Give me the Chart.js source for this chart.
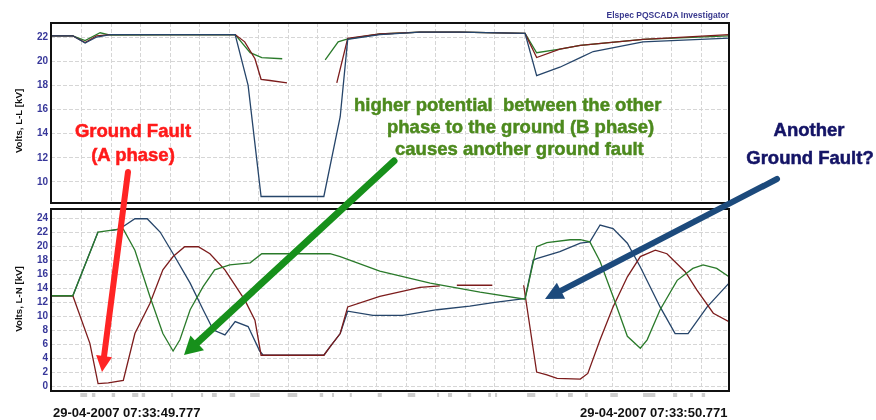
<!DOCTYPE html>
<html>
<head>
<meta charset="utf-8">
<script src="https://cdn.jsdelivr.net/npm/chart.js@4.4.1/dist/chart.umd.min.js"></script>
<style>
  body { margin: 0; background: #fff; }
  #wrap { position: relative; width: 876px; height: 420px; overflow: hidden; font-family: "Liberation Sans", Arial, sans-serif; }
  #wrap canvas { position: absolute; left: 0; }
  .txt { position: absolute; font-weight: bold; white-space: pre; line-height: 1; }
  .note { font-size: 18.5px; -webkit-text-stroke: 0.5px currentColor; }
  .red { color: #ff1a1a; }
  .green { color: #4d8a1e; }
  .navy { color: #141466; }
  .axisTitle { position: absolute; font-weight: bold; font-size: 9.7px; white-space: pre; line-height: 1; color: #111; transform: translate(-50%, -50%) rotate(-90deg); }
  #arrows { position: absolute; left: 0; top: 0; }
</style>
</head>
<body>
<div id="wrap">
  <canvas id="llChart" width="876" height="213" style="top:0"></canvas>
  <canvas id="lnChart" width="876" height="221" style="top:199px"></canvas>

  <div class="txt" style="right:147px; top:11px; font-size:8.5px; color:#3a3a8f;">Elspec PQSCADA Investigator</div>
  <div class="axisTitle" style="left:19px; top:121px;">Volts, L-L [kV]</div>
  <div class="axisTitle" style="left:19px; top:299px;">Volts, L-N [kV]</div>
  <div class="txt" style="left:53px; top:406px; font-size:13px; color:#111;">29-04-2007 07:33:49.777</div>
  <div class="txt" style="left:580px; top:406px; font-size:13px; color:#111;">29-04-2007 07:33:50.771</div>

  <svg id="arrows" width="876" height="420"></svg>

  <div class="txt note red" style="left:133px; top:122px; transform:translateX(-50%);">Ground Fault</div>
  <div class="txt note red" style="left:133px; top:146px; transform:translateX(-50%);">(A phase)</div>
  <div class="txt note green" style="left:354px; top:96px;">higher potential  between the other</div>
  <div class="txt note green" style="left:387px; top:118px;">phase to the ground (B phase)</div>
  <div class="txt note green" style="left:395px; top:140px;">causes another ground fault</div>
  <div class="txt note navy" style="left:809px; top:121px; transform:translateX(-50%);">Another</div>
  <div class="txt note navy" style="left:810px; top:149px; transform:translateX(-50%);">Ground Fault?</div>
</div>

<script>
// time in ms after 07:33:49.777, value in kV
const llBlue = [[0,22.1],[32,22.1],[50,21.5],[67,22.0],[87,22.2],[270,22.2],[289,18.0],[308,8.8],[400,8.8],[424,15.4],[435,21.8],[482,22.2],[541,22.4],[600,22.4],[695,22.3],[712,18.8],[746,19.5],[776,20.3],[795,20.8],[868,21.6],[994,21.9]];
const llRed = [[0,22.1],[32,22.1],[50,21.55],[67,22.1],[87,22.2],[270,22.2],[284,21.6],[299,20.2],[308,18.5],[321,18.4],[346,18.2],[370,null],[419,18.2],[435,21.9],[482,22.25],[541,22.4],[600,22.4],[695,22.3],[712,20.3],[746,21.0],[776,21.3],[868,21.8],[994,22.2]];
const llGreen = [[0,22.1],[32,22.1],[50,21.7],[72,22.35],[87,22.15],[270,22.2],[292,20.7],[309,20.3],[339,20.2],[370,null],[402,20.1],[421,21.6],[435,21.85],[482,22.25],[541,22.4],[600,22.4],[695,22.3],[712,20.7],[746,21.0],[776,21.3],[868,21.8],[994,22.1]];

const lnBlue = [[0,12.9],[32,12.9],[69,22.05],[78,null],[88,22.2],[100,22.4],[123,23.9],[141,23.9],[160,22.0],[179,18.9],[204,14.7],[223,10.9],[238,8.0],[255,7.3],[270,9.2],[289,8.5],[306,5.0],[311,4.4],[400,4.4],[409,5.6],[424,7.5],[435,10.7],[472,10.1],[516,10.1],[566,10.9],[614,11.4],[648,11.9],[688,12.4],[695,12.5],[707,18.0],[712,18.2],[746,19.2],[776,20.4],[790,20.6],[805,23.0],[824,22.5],[845,20.4],[864,17.0],[893,11.3],[915,7.5],[934,7.5],[962,11.3],[994,14.7]];
const lnRed = [[0,12.9],[32,12.9],[57,6.1],[69,0.35],[84,0.45],[106,0.8],[123,7.5],[145,11.8],[164,16.6],[179,18.5],[196,19.9],[216,19.9],[233,18.9],[255,16.6],[284,12.3],[299,9.4],[308,4.4],[400,4.4],[409,5.6],[424,7.5],[435,11.3],[482,12.8],[541,14.1],[570,14.3],[582,null],[595,14.4],[647,14.4],[670,null],[693,14.4],[712,2.0],[727,1.6],[742,1.1],[776,1.0],[787,1.8],[805,6.6],[824,11.3],[845,15.6],[864,18.5],[886,19.4],[903,18.9],[930,16.3],[947,13.7],[971,10.4],[994,9.2]];
const lnGreen = [[0,12.9],[32,12.9],[69,22.0],[100,22.4],[106,22.4],[123,19.4],[145,12.8],[164,7.5],[179,5.0],[189,6.6],[204,10.9],[223,14.2],[240,16.6],[262,17.3],[292,17.6],[309,18.9],[409,18.9],[424,18.5],[482,16.4],[556,14.7],[629,13.4],[695,12.4],[712,19.9],[727,20.5],[761,20.9],[776,20.9],[790,20.6],[805,17.8],[824,12.8],[845,7.1],[864,5.4],[874,6.6],[893,10.9],[918,15.1],[941,16.8],[956,17.3],[976,16.8],[994,15.6]];

const llTicks = [10, 12, 14, 16, 18, 20, 22];
const lnTicks = [0, 2, 4, 6, 8, 10, 12, 14, 16, 18, 20, 22, 24];

// grey sample marks under the lower plot, [from, to] ms
const sampleMarks = [[43,53],[60,65],[89,94],[119,128],[133,138],[176,179],[220,223],[236,243],[262,270],[292,306],[347,361],[394,399],[412,413],[438,441],[479,485],[523,534],[566,569],[582,588],[611,616],[641,645],[651,654],[698,710],[740,743],[758,765],[783,787],[820,831],[868,886],[912,918],[937,941],[954,959]];

const T_END = 994;
const GRID_START = 45.4, GRID_STEP = 43.25;

const BLUE = "#26456a", RED = "#7c1c1c", GREEN = "#2a7a2a";
const tickFont = { family: "Liberation Sans", weight: "bold", size: 10 };

const toXY = arr => arr.map(([x, y]) => ({ x, y }));

const framePlugin = {
  id: "frame",
  afterDraw(chart) {
    const { ctx, chartArea: a } = chart;
    ctx.save();
    ctx.strokeStyle = "#111";
    ctx.lineWidth = 2;
    ctx.strokeRect(a.left, a.top, a.right - a.left, a.bottom - a.top);
    ctx.restore();
  }
};

const marksPlugin = {
  id: "marks",
  afterDraw(chart) {
    if (!chart.options.plugins.marks) return;
    const { ctx, chartArea: a, scales } = chart;
    ctx.save();
    ctx.fillStyle = "#cdcdcd";
    sampleMarks.forEach(([t0, t1]) => {
      const x0 = scales.x.getPixelForValue(t0);
      const x1 = scales.x.getPixelForValue(t1);
      ctx.fillRect(x0, a.bottom + 2, Math.max(2, x1 - x0), 4);
    });
    ctx.restore();
  }
};

const makeChart = (id, series, yMin, yMax, yTicks, pad, withMarks) => {
  const ctx = document.getElementById(id).getContext("2d");
  return new Chart(ctx, {
    type: "line",
    data: {
      datasets: series.map(([data, color]) => ({
        data: toXY(data),
        borderColor: color,
        borderWidth: 1.3,
        pointRadius: 0,
        tension: 0,
        spanGaps: false
      }))
    },
    options: {
      responsive: false,
      animation: false,
      layout: { padding: pad },
      plugins: { legend: { display: false }, tooltip: { enabled: false }, marks: withMarks },
      scales: {
        x: {
          type: "linear",
          min: 0,
          max: T_END,
          afterBuildTicks: s => {
            const t = [];
            for (let v = GRID_START; v < T_END; v += GRID_STEP) t.push({ value: v });
            s.ticks = t;
          },
          afterFit: s => { s.height = 0; },
          ticks: { display: false },
          grid: { color: "#d6d6d6", drawTicks: false },
          border: { display: false, dash: [4, 2] }
        },
        y: {
          min: yMin,
          max: yMax,
          afterBuildTicks: s => { s.ticks = yTicks.map(v => ({ value: v })); },
          afterFit: s => { s.width = 51; },
          ticks: { color: "#38389a", font: tickFont, padding: 3 },
          grid: { color: "#d6d6d6", drawTicks: false },
          border: { display: false, dash: [4, 2] }
        }
      }
    },
    plugins: [framePlugin, marksPlugin]
  });
};

// top: line-to-line, bottom: line-to-neutral (first dataset drawn on top)
makeChart("llChart", [[llBlue, BLUE], [llRed, RED], [llGreen, GREEN]], 8.26, 23.16, llTicks,
  { top: 23, bottom: 10, left: 0, right: 147 }, false);
makeChart("lnChart", [[lnGreen, GREEN], [lnRed, RED], [lnBlue, BLUE]], -0.71, 25.29, lnTicks,
  { top: 10, bottom: 29, left: 0, right: 147 }, true);

// annotation arrows
const svg = document.getElementById("arrows");
const NS = "http://www.w3.org/2000/svg";
const arrow = (x0, y0, x1, y1, w, headLen, headHalf, color) => {
  const len = Math.hypot(x1 - x0, y1 - y0);
  const ux = (x1 - x0) / len, uy = (y1 - y0) / len;
  const nx = -uy, ny = ux;
  const bx = x1 - ux * headLen, by = y1 - uy * headLen;
  const line = document.createElementNS(NS, "line");
  line.setAttribute("x1", x0); line.setAttribute("y1", y0);
  line.setAttribute("x2", bx + ux * 2); line.setAttribute("y2", by + uy * 2);
  line.setAttribute("stroke", color);
  line.setAttribute("stroke-width", w);
  line.setAttribute("stroke-linecap", "round");
  svg.appendChild(line);
  const head = document.createElementNS(NS, "polygon");
  head.setAttribute("points", [
    [x1, y1],
    [bx + nx * headHalf, by + ny * headHalf],
    [bx - nx * headHalf, by - ny * headHalf]
  ].map(p => p.join(",")).join(" "));
  head.setAttribute("fill", color);
  svg.appendChild(head);
};
arrow(128, 172, 102, 372, 6, 16, 8, "#ff2424");
arrow(394, 161, 184, 355, 7, 18, 10, "#17901b");
arrow(777, 179, 545, 299, 6, 18, 9, "#1c4a7c");
</script>
</body>
</html>
